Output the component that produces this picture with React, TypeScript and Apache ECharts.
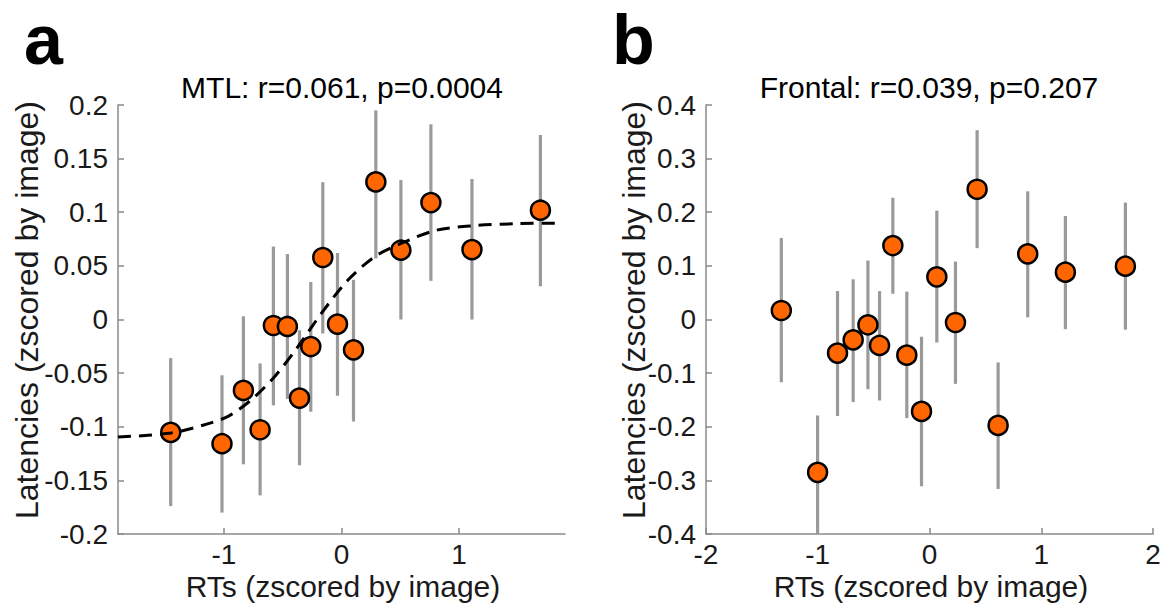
import React, { useEffect, useRef } from "react";
import * as echarts from "echarts";

// ---- Panel a: MTL ----
const mtlX = [-1.452, -1.016, -0.834, -0.692, -0.579, -0.46, -0.357, -0.261, -0.159, -0.034, 0.102, 0.292, 0.505, 0.76, 1.109, 1.691];
const mtlY = [-0.1053, -0.1158, -0.0661, -0.1028, -0.0056, -0.0065, -0.0733, -0.0252, 0.0578, -0.0043, -0.0283, 0.1283, 0.0646, 0.109, 0.0652, 0.1019];
const mtlHi = [-0.036, -0.052, 0.003, -0.041, 0.068, 0.061, -0.01, 0.035, 0.128, 0.062, 0.037, 0.195, 0.13, 0.182, 0.131, 0.172];
const mtlLo = [-0.174, -0.18, -0.135, -0.164, -0.08, -0.074, -0.136, -0.086, -0.013, -0.071, -0.095, 0.057, 0.0, 0.036, 0.0, 0.031];
const mtlCurveX = [-1.9, -1.447, -1.163, -0.964, -0.766, -0.567, -0.369, -0.17, 0.057, 0.284, 0.511, 0.795, 1.106, 1.504, 1.88];
const mtlCurveY = [-0.1096, -0.1059, -0.0981, -0.0903, -0.0748, -0.0531, -0.0251, 0.0059, 0.037, 0.0587, 0.0711, 0.0829, 0.0873, 0.0894, 0.0898];
const mtlXTicks = [-1, 0, 1];
const mtlTitle = "MTL: r=0.061, p=0.0004";

// ---- Panel b: Frontal ----
const frX = [-1.326, -1.0015, -0.823, -0.683, -0.551, -0.447, -0.328, -0.203, -0.0715, 0.0656, 0.2325, 0.426, 0.614, 0.879, 1.216, 1.753];
const frY = [0.0168, -0.285, -0.0627, -0.0379, -0.0099, -0.0484, 0.1379, -0.0665, -0.1714, 0.0795, -0.0056, 0.2429, -0.1975, 0.1224, 0.0882, 0.0994];
const frHi = [0.152, -0.179, 0.053, 0.075, 0.11, 0.053, 0.227, 0.052, -0.032, 0.203, 0.108, 0.353, -0.08, 0.239, 0.193, 0.218];
const frLo = [-0.117, -0.4, -0.18, -0.154, -0.13, -0.151, 0.048, -0.184, -0.311, -0.043, -0.12, 0.133, -0.316, 0.004, -0.018, -0.019];
const frXTicks = [-2, -1, 0, 1, 2];
const frTitle = "Frontal: r=0.039, p=0.207";

const xLabel = "RTs (zscored by image)";
const yLabel = "Latencies (zscored by image)";
const panelLetters = ["a", "b"];

const FONT = "'Liberation Sans', Arial, Helvetica, sans-serif";
const AXIS_COLOR = "#8a8a8a";
const TEXT_COLOR = "#1a1a1a";
const TICK_FONT = 28;

function xAxisCfg(gridIndex: number, min: number, max: number, ticks: number[]) {
  return {
    gridIndex,
    type: "value",
    min,
    max,
    axisLine: { show: true, onZero: false, lineStyle: { color: AXIS_COLOR, width: 1.5 } },
    axisTick: { show: true, inside: true, length: 6, customValues: ticks, lineStyle: { color: AXIS_COLOR, width: 1.5 } },
    axisLabel: { customValues: ticks, margin: 6, fontSize: TICK_FONT, color: TEXT_COLOR, fontFamily: FONT, formatter: (v: number) => String(v) },
    splitLine: { show: false },
  };
}

function yAxisCfg(gridIndex: number, min: number, max: number, interval: number) {
  return {
    gridIndex,
    type: "value",
    min,
    max,
    interval,
    axisLine: { show: true, onZero: false, lineStyle: { color: AXIS_COLOR, width: 1.5 } },
    axisTick: { show: true, inside: true, length: 6, lineStyle: { color: AXIS_COLOR, width: 1.5 } },
    axisLabel: {
      margin: 10,
      fontSize: TICK_FONT,
      color: TEXT_COLOR,
      fontFamily: FONT,
      formatter: (v: number) => String(parseFloat(v.toFixed(2)) + 0),
    },
    splitLine: { show: false },
  };
}

function errorSeries(idx: number, xs: number[], lo: number[], hi: number[]) {
  return {
    type: "custom",
    xAxisIndex: idx,
    yAxisIndex: idx,
    z: 1,
    clip: true,
    data: xs.map((x, i) => [x, lo[i], hi[i]]),
    encode: { x: 0, y: [1, 2] },
    renderItem: (_params: any, api: any) => {
      const x = api.value(0);
      const p1 = api.coord([x, api.value(1)]);
      const p2 = api.coord([x, api.value(2)]);
      return {
        type: "line",
        shape: { x1: p1[0], y1: p1[1], x2: p2[0], y2: p2[1] },
        style: { stroke: "#9a9a9a", lineWidth: 3.2 },
      };
    },
  };
}

function pointSeries(idx: number, xs: number[], ys: number[]) {
  return {
    type: "scatter",
    xAxisIndex: idx,
    yAxisIndex: idx,
    z: 2,
    symbol: "circle",
    symbolSize: 19,
    itemStyle: { color: "#ff6600", borderColor: "#000000", borderWidth: 2.5, opacity: 1 },
    data: xs.map((x, i) => [x, ys[i]]),
  };
}

const letterStyle = { fontFamily: FONT, fontWeight: "bold", fontSize: 70, fill: "#000", align: "left", verticalAlign: "middle" };

export default function App() {
  const ref = useRef<HTMLDivElement>(null);
  useEffect(() => {
    if (!ref.current) return;
    const chart = echarts.init(ref.current, undefined, { renderer: "svg" });
    const option: any = {
      animation: false,
      backgroundColor: "#ffffff",
      grid: [
        { left: 118, top: 105, width: 447, height: 429 },
        { left: 706, top: 105, width: 447, height: 429 },
      ],
      xAxis: [xAxisCfg(0, -1.9, 1.9, mtlXTicks), xAxisCfg(1, -2, 2, frXTicks)],
      yAxis: [yAxisCfg(0, -0.2, 0.2, 0.05), yAxisCfg(1, -0.4, 0.4, 0.1)],
      series: [
        errorSeries(0, mtlX, mtlLo, mtlHi),
        pointSeries(0, mtlX, mtlY),
        {
          type: "line",
          xAxisIndex: 0,
          yAxisIndex: 0,
          z: 3,
          data: mtlCurveX.map((x, i) => [x, mtlCurveY[i]]),
          symbol: "none",
          showSymbol: false,
          smooth: 0.3,
          lineStyle: { color: "#000000", width: 3, type: [13, 8] },
        },
        errorSeries(1, frX, frLo, frHi),
        pointSeries(1, frX, frY),
      ],
      graphic: [
        { type: "text", x: 24, y: 40, style: { ...letterStyle, text: panelLetters[0] } },
        { type: "text", x: 612, y: 40, style: { ...letterStyle, text: panelLetters[1] } },
        { type: "text", x: 342, y: 87, style: { text: mtlTitle, fontFamily: FONT, fontSize: 30, fill: "#000", align: "center", verticalAlign: "middle" } },
        { type: "text", x: 929, y: 87, style: { text: frTitle, fontFamily: FONT, fontSize: 30, fill: "#000", align: "center", verticalAlign: "middle" } },
        { type: "text", x: 343, y: 586, style: { text: xLabel, fontFamily: FONT, fontSize: 30, fill: TEXT_COLOR, align: "center", verticalAlign: "middle" } },
        { type: "text", x: 931, y: 586, style: { text: xLabel, fontFamily: FONT, fontSize: 30, fill: TEXT_COLOR, align: "center", verticalAlign: "middle" } },
        { type: "text", x: 27, y: 310, rotation: Math.PI / 2, style: { text: yLabel, fontFamily: FONT, fontSize: 32, fill: TEXT_COLOR, align: "center", verticalAlign: "middle" } },
        { type: "text", x: 634, y: 310, rotation: Math.PI / 2, style: { text: yLabel, fontFamily: FONT, fontSize: 32, fill: TEXT_COLOR, align: "center", verticalAlign: "middle" } },
      ],
    };
    chart.setOption(option);
    return () => chart.dispose();
  }, []);
  return <div ref={ref} style={{ position: "absolute", left: 0, top: 0, width: 1166, height: 604 }} />;
}
